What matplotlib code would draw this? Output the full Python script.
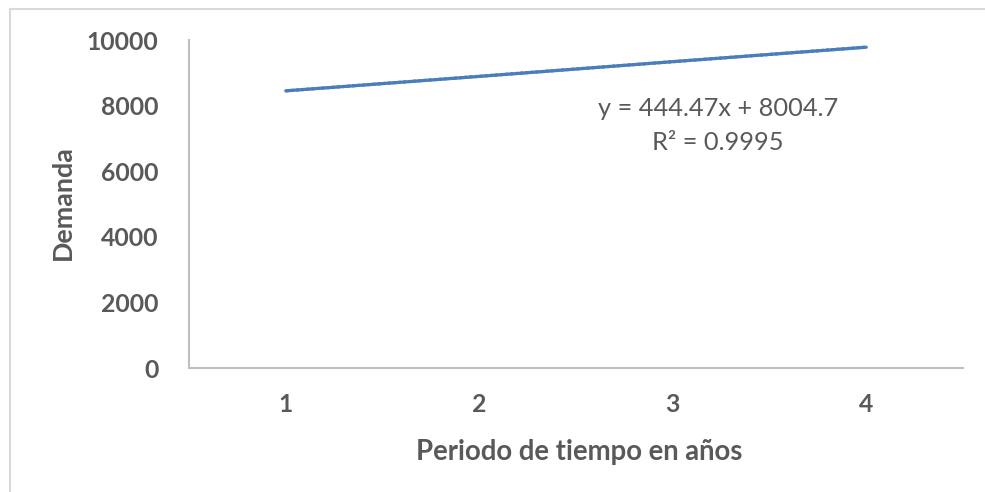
import matplotlib.pyplot as plt
import numpy as np

# demand per period (years)
periodos = [1, 2, 3, 4]
demanda = [8450, 8890, 9340, 9780]
# linear trendline shown in the chart
pendiente = 444.47
intercepto = 8004.7
r2 = 0.9995

gris = '#595959'
azul = '#4A7EBB'
plt.rcParams['font.family'] = ['Lato', 'DejaVu Sans']

fig = plt.figure(figsize=(9.85, 4.92), dpi=100)
ax = fig.add_axes([189/985, 1-368/492, 774/985, 328/492])

ax.plot(periodos, demanda, color=azul, lw=2.3, solid_capstyle='round')
x_t = np.array(periodos)
ax.plot(x_t, pendiente*x_t + intercepto, color=azul, lw=2.3, ls=(0, (1, 0.6)))

ax.set_xlim(0.5, 4.5)
ax.set_ylim(0, 10000)
ax.set_xticks(periodos)
ax.set_yticks(range(0, 10001, 2000))
ax.tick_params(length=0, labelsize=17.8, labelcolor=gris, pad=22)
for lab in ax.get_xticklabels() + ax.get_yticklabels():
    lab.set_fontweight('bold')
ax.tick_params(axis='x', pad=18)

for s in ['top', 'right']:
    ax.spines[s].set_visible(False)
for s in ['left', 'bottom']:
    ax.spines[s].set_color('#BFBFBF')
    ax.spines[s].set_linewidth(1.5)

fig.text(718/985, 1-108/492, 'y = %.2fx + %.1f' % (pendiente, intercepto),
         ha='center', va='center', fontsize=18.3, color=gris)
fig.text(718/985, 1-143/492, 'R² = %.4f' % r2,
         ha='center', va='center', fontsize=18.3, color=gris)
fig.text(579/985, 1-452/492, 'Periodo de tiempo en años', ha='center', va='center',
         fontsize=19.8, fontweight='bold', color=gris)
fig.text(63/985, 1-203/492, 'Demanda', ha='center', va='center', rotation=90,
         fontsize=19.4, fontweight='bold', color=gris)

# chart border (only top and left visible)
fig.add_artist(plt.Line2D([10/985, 1], [1-8.5/492]*2, color='#D9D9D9', lw=1.5))
fig.add_artist(plt.Line2D([10/985]*2, [0, 1-8.5/492], color='#D9D9D9', lw=1.5))

fig.savefig('out.png', dpi=100)
